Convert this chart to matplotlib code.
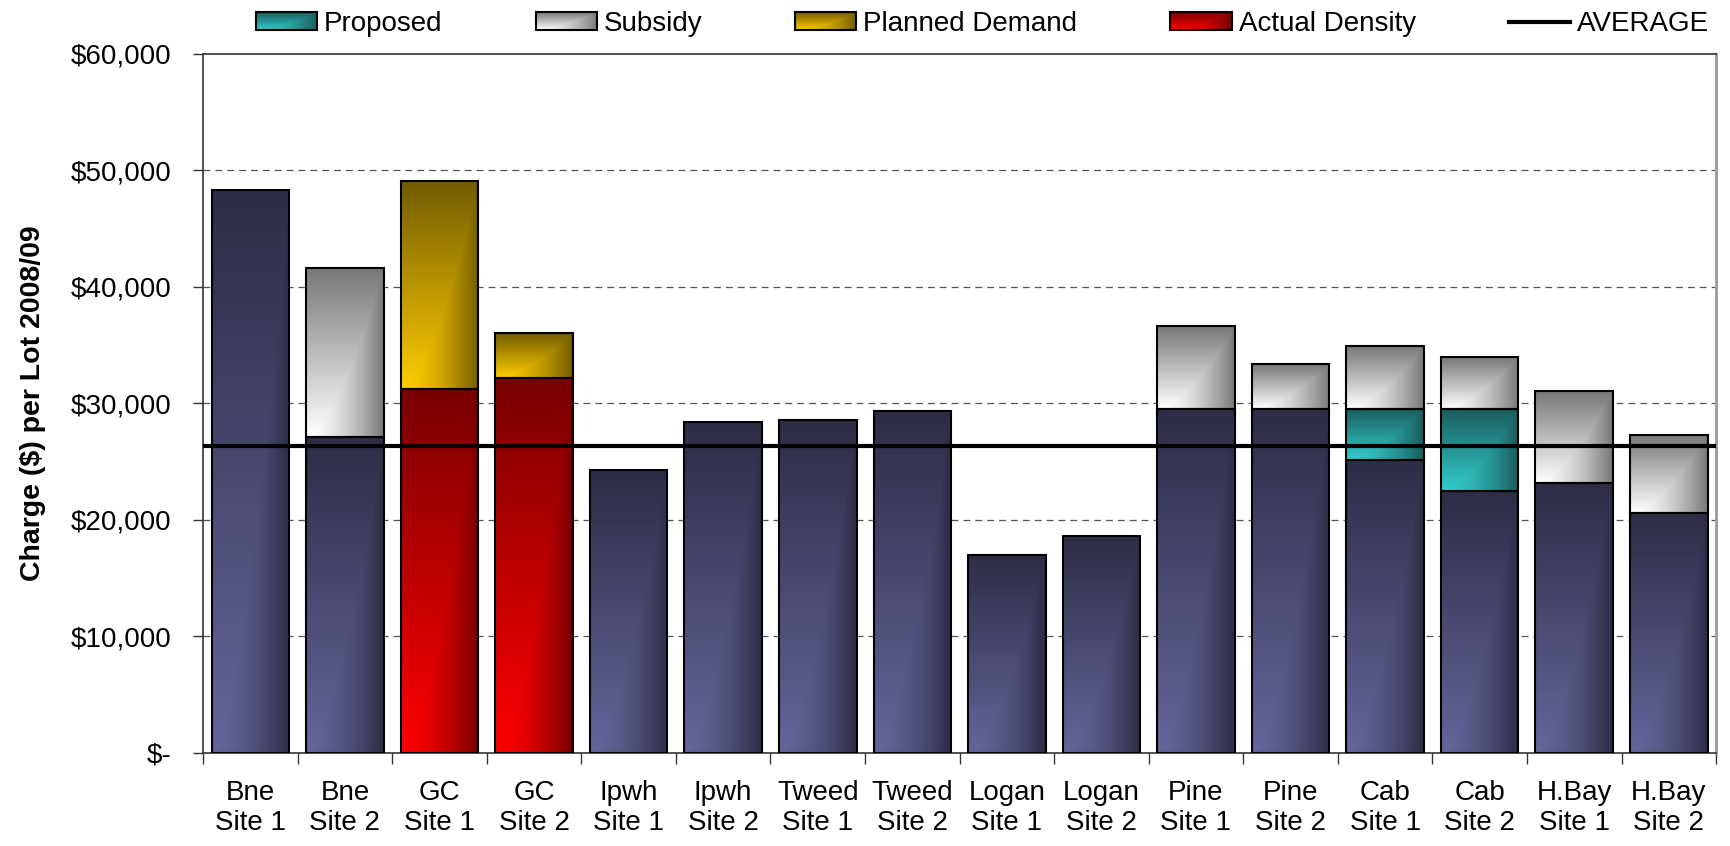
import numpy as np
import matplotlib
matplotlib.use("Agg")
import matplotlib.pyplot as plt
from matplotlib.patches import Rectangle
from matplotlib.lines import Line2D
from matplotlib.legend_handler import HandlerBase
from matplotlib.image import BboxImage
from matplotlib.transforms import Bbox, TransformedBbox
from matplotlib.ticker import FixedLocator, FuncFormatter

plt.rcParams['font.family'] = ['Liberation Sans', 'DejaVu Sans']

# =========================================
# Data (charge per lot, $)
# =========================================
sites = ["Bne\nSite 1", "Bne\nSite 2", "GC\nSite 1", "GC\nSite 2",
         "Ipwh\nSite 1", "Ipwh\nSite 2", "Tweed\nSite 1", "Tweed\nSite 2",
         "Logan\nSite 1", "Logan\nSite 2", "Pine\nSite 1", "Pine\nSite 2",
         "Cab\nSite 1", "Cab\nSite 2", "H.Bay\nSite 1", "H.Bay\nSite 2"]

base = [48300, 27100, 0, 0, 24300, 28400, 28600, 29300,
        17000, 18600, 29500, 29500, 25100, 22450, 23200, 20550]
actual_density = [0, 0, 31260, 32200, 0, 0, 0, 0,
                  0, 0, 0, 0, 0, 0, 0, 0]
proposed = [0, 0, 0, 0, 0, 0, 0, 0,
            0, 0, 0, 0, 4400, 7050, 0, 0]
planned_demand = [0, 0, 17840, 3840, 0, 0, 0, 0,
                  0, 0, 0, 0, 0, 0, 0, 0]
subsidy = [0, 14500, 0, 0, 0, 0, 0, 0,
           0, 0, 7100, 3850, 5400, 4450, 7900, 6750]
average = 26300

# gradient colours (light corner, dark corner)
NAVY = ("#65659c", "#2d2d46")
RED = ("#ff0000", "#780000")
GOLD = ("#ffcc00", "#735c00")
GRAY = ("#ffffff", "#787878")
TEAL = ("#33cccc", "#1a5c5c")


def make_gradient(colors, n=80):
    light = np.array(matplotlib.colors.to_rgb(colors[0]))
    dark = np.array(matplotlib.colors.to_rgb(colors[1]))
    u = np.linspace(0, 1, n)[None, :]
    v = np.linspace(0, 1, n)[:, None]
    t = np.maximum(u ** 1.6, v)
    return light * (1 - t[..., None]) + dark * t[..., None]


class HandlerGradient(HandlerBase):
    def __init__(self, colors):
        super().__init__()
        self.colors = colors

    def create_artists(self, legend, orig_handle, xdescent, ydescent,
                       width, height, fontsize, trans):
        bb = TransformedBbox(Bbox.from_bounds(-xdescent, -ydescent, width, height), trans)
        img = BboxImage(bb, interpolation='bilinear', origin='lower')
        img.set_data(make_gradient(self.colors))
        rect = Rectangle((-xdescent, -ydescent), width, height, fill=False,
                         edgecolor='black', linewidth=1.5, transform=trans)
        return [img, rect]


fig = plt.figure(figsize=(17.31, 8.46), dpi=100)
ax = fig.add_axes([0.1173, 0.1103, 0.8741, 0.8259])

x = np.arange(len(sites))
width = 0.82


def grad_bars(vals, bottoms, colors):
    vals = np.asarray(vals, dtype=float)
    bottoms = np.asarray(bottoms, dtype=float)
    m = vals > 0
    bars = ax.bar(x[m], vals[m], bottom=bottoms[m], width=width,
                  facecolor='none', edgecolor='black', linewidth=1.5, zorder=3)
    grad = make_gradient(colors)
    for r in bars:
        ax.imshow(grad, extent=[r.get_x(), r.get_x() + r.get_width(),
                                r.get_y(), r.get_y() + r.get_height()],
                  aspect='auto', origin='lower', interpolation='bilinear', zorder=2)


zeros = np.zeros(len(sites))
lower = np.array(base) + np.array(actual_density)
upper = lower + np.array(proposed)

grad_bars(base, zeros, NAVY)
grad_bars(actual_density, zeros, RED)
grad_bars(proposed, lower, TEAL)
grad_bars(subsidy, upper, GRAY)
grad_bars(planned_demand, upper, GOLD)

ax.axhline(average, color='black', linewidth=3, zorder=4)

# =========================================
# Axes styling
# =========================================
ax.set_xlim(-0.5, len(sites) - 0.5)
ax.set_ylim(0, 60000)
ax.set_aspect('auto')

ax.set_yticks(np.arange(0, 60001, 10000))
ax.yaxis.set_major_formatter(FuncFormatter(lambda v, _: "$-" if v == 0 else f"${v:,.0f}"))
for yv in range(10000, 60000, 10000):
    ax.axhline(yv, color='#555555', linewidth=0.9, linestyle=(0, (5.5, 4)), zorder=0)

ax.xaxis.set_major_locator(FixedLocator(np.arange(-0.5, len(sites), 1.0)))
ax.xaxis.set_major_formatter(FuncFormatter(lambda v, _: ""))
ax.xaxis.set_minor_locator(FixedLocator(x))
ax.set_xticklabels(sites, minor=True)

ax.tick_params(axis='y', direction='out', length=7, width=1, color='#333333',
               labelsize=20, pad=16)
ax.tick_params(axis='x', which='major', direction='out', length=8, width=1, color='#333333')
ax.tick_params(axis='x', which='minor', length=0, labelsize=20, pad=20)

for s in ['left', 'bottom', 'top']:
    ax.spines[s].set_color('#333333')
    ax.spines[s].set_linewidth(1.2)
ax.spines['right'].set_color('#999999')
ax.spines['right'].set_linewidth(2)

ax.set_ylabel("Charge ($) per Lot 2008/09", fontsize=20.5, fontweight='bold')
ax.yaxis.set_label_coords(-0.104, 0.5)

# =========================================
# Legend
# =========================================
h_prop = Rectangle((0, 0), 1, 1)
h_sub = Rectangle((0, 0), 1, 1)
h_plan = Rectangle((0, 0), 1, 1)
h_act = Rectangle((0, 0), 1, 1)
h_avg = Line2D([], [], color='black', linewidth=3)

fig.legend([h_prop, h_sub, h_plan, h_act, h_avg],
           ["Proposed", "Subsidy", "Planned Demand", "Actual Density", "AVERAGE"],
           handler_map={h_prop: HandlerGradient(TEAL), h_sub: HandlerGradient(GRAY),
                        h_plan: HandlerGradient(GOLD), h_act: HandlerGradient(RED)},
           loc='center left', bbox_to_anchor=(256 / 1731, 1 - 24 / 846),
           ncol=5, frameon=False, fontsize=20, borderpad=0, borderaxespad=0,
           handlelength=2.2, handleheight=0.6, handletextpad=0.25, columnspacing=3.35)

fig.savefig("out.png", dpi=100)
plt.close(fig)
